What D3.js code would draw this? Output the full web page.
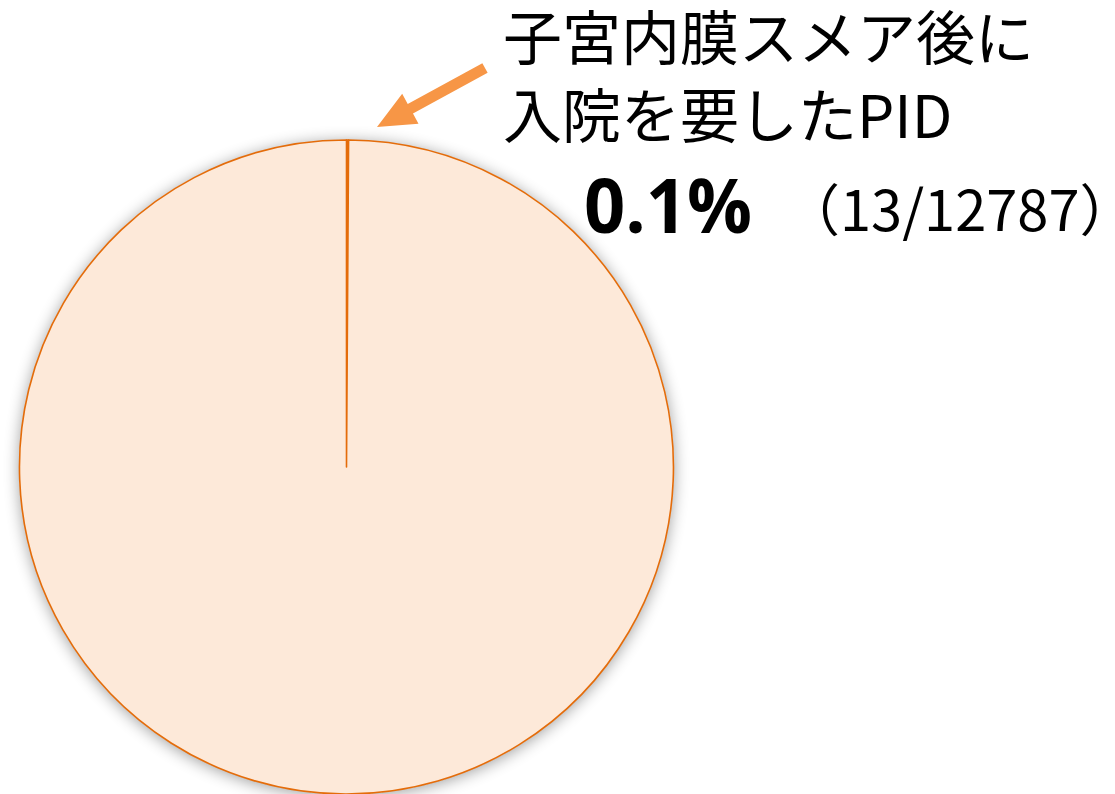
<!DOCTYPE html>
<html><head><meta charset="utf-8">
<script src="https://cdn.jsdelivr.net/npm/d3@7"></script>
<style>html,body{margin:0;padding:0;background:#fff;}svg{display:block;}</style>
</head><body>
<svg id="chart" width="1115" height="794"></svg>
<script>
const categories = ["子宮内膜スメア後に入院を要したPID", "その他"];
const values = [13, 12774];
const total = 12787;
const titleLines = ["子宮内膜スメア後に", "入院を要したPID"];
const pctLabel = "0.1%";
const countParts = ["（13/12787", "）"];

const svg = d3.select("#chart");
const W = 1115, H = 794;
const cx = 346.5, cy = 467, r = 327;

const defs = svg.append("defs");
const f = defs.append("filter").attr("id","sh").attr("x","-20%").attr("y","-20%").attr("width","140%").attr("height","140%");
f.append("feGaussianBlur").attr("in","SourceAlpha").attr("stdDeviation",8).attr("result","b");
f.append("feOffset").attr("in","b").attr("dx",0).attr("dy",2).attr("result","o");
f.append("feComponentTransfer").attr("in","o").attr("result","o2")
 .append("feFuncA").attr("type","linear").attr("slope",0.4);
const m = f.append("feMerge");
m.append("feMergeNode").attr("in","o2");
m.append("feMergeNode").attr("in","SourceGraphic");

const pie = d3.pie().sort(null).value(d => d)(values);
const arc = d3.arc().innerRadius(0).outerRadius(r);
const colors = ["#E46C0A", "#FDE9D9"];

const g = svg.append("g").attr("transform", `translate(${cx},${cy})`);
g.append("circle").attr("r", r).attr("fill", "#FDE9D9").attr("filter","url(#sh)");
g.selectAll("path.s").data(pie).join("path").attr("class","s")
  .attr("d", arc)
  .attr("fill", (d,i) => colors[i])
  .attr("stroke", "#E46C0A")
  .attr("stroke-width", 1.6)
  .attr("stroke-linejoin","round");

// arrow
const ax1 = 485, ay1 = 68, ax2 = 377, ay2 = 127;
const ang = Math.atan2(ay2-ay1, ax2-ax1);
const len = Math.hypot(ax2-ax1, ay2-ay1);
const headL = 38, headW = 17, shaftW = 5.5;
const ag = svg.append("g").attr("transform", `translate(${ax1},${ay1}) rotate(${ang*180/Math.PI})`);
ag.append("path")
  .attr("d", `M0,${-shaftW} L${len-headL},${-shaftW} L${len-headL},${-headW} L${len},0 L${len-headL},${headW} L${len-headL},${shaftW} L0,${shaftW} Z`)
  .attr("fill", "#F79646");

const font = "'Noto Sans CJK JP','Noto Sans',sans-serif";
const tg = svg.append("g").attr("font-family", font).attr("fill", "#000");
tg.selectAll("text.t").data(titleLines).join("text").attr("class","t")
  .attr("x", 503).attr("y", (d,i) => 60 + i*78)
  .attr("font-size", 59)
  .text(d => d);
tg.append("text").attr("x", 584).attr("y", 233)
  .attr("font-size", 76).attr("font-weight", "bold")
  .attr("font-family", "'Open Sans','Noto Sans',sans-serif")
  .attr("textLength", 168).attr("lengthAdjust","spacingAndGlyphs")
  .text(pctLabel);
const ct = tg.append("text").attr("x", 784).attr("y", 231)
  .attr("font-size", 56);
ct.append("tspan").text(countParts[0]);
ct.append("tspan").attr("letter-spacing", "-34px").text(countParts[1]);
</script>
</body></html>
